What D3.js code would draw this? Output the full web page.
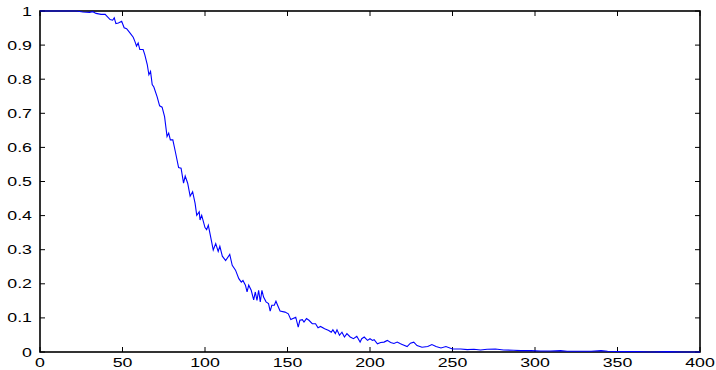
<!DOCTYPE html>
<html>
<head>
<meta charset="utf-8">
<script src="https://cdn.jsdelivr.net/npm/d3@7"></script>
<style>
  body { margin: 0; background: #fff; }
  text { font-family: "Liberation Sans", Arial, sans-serif; font-size: 12.5px; fill: #000; }
</style>
</head>
<body>
<div id="chart"></div>
<script>
// values
const xs = [0, 10, 22, 26, 30, 32, 34, 37, 39.5, 40.5, 42.5, 44, 45, 46, 47.5, 49.5,
  51, 52.5, 54.5, 56.5, 57.5, 58.5, 59.5, 60.5, 62.5, 63.5, 65, 66, 67, 68, 69, 71,
  72.5, 74, 75.5, 77, 78, 79, 80.5, 82, 84, 85.5, 87, 88, 89.5, 91, 92.5, 94, 95,
  96.5, 97, 98, 100, 101, 102, 103, 105, 106.5, 108, 109, 110.5, 112.5, 115, 116.5,
  118.5, 120.5, 122, 123, 124.5, 125.5, 126.5, 128, 129.5, 130.5, 131.5, 132.5,
  133.5, 134.5, 135.5, 137, 138.5, 139.5, 140.5, 142, 143, 144, 145.5, 148.5, 150.5,
  152, 154, 155, 156.5, 157.5, 159, 160, 161.5, 163, 165, 167, 168.5, 170, 172.5,
  175, 176.5, 177.5, 179, 180, 181.5, 183, 184.5, 186, 188, 190, 192, 194, 195,
  196.5, 198.5, 200, 201.5, 202.5, 204.5, 206.5, 208.5, 210.5, 212.5, 214.5, 216.5,
  218.5, 219.5, 222.5, 224.5, 226.5, 228.5, 231.5, 235, 237.5, 240, 243, 246, 250,
  255, 259, 263, 267, 271, 276, 281, 287, 291.5, 297.5, 303.5, 309.5, 315.5, 319.5,
  328, 334, 340, 344, 352, 362, 370, 380, 390, 400];
const ys = [1, 1, 1, 0.997, 0.996, 0.998, 0.993, 0.99, 0.99, 0.985, 0.975, 0.973, 0.98,
  0.963, 0.965, 0.97, 0.951, 0.948, 0.936, 0.923, 0.911, 0.897, 0.906, 0.887, 0.887,
  0.872, 0.843, 0.813, 0.823, 0.784, 0.777, 0.748, 0.722, 0.718, 0.69, 0.632, 0.642,
  0.622, 0.622, 0.588, 0.541, 0.539, 0.495, 0.516, 0.495, 0.457, 0.47, 0.436, 0.401,
  0.411, 0.387, 0.401, 0.365, 0.359, 0.372, 0.348, 0.299, 0.318, 0.295, 0.31, 0.281,
  0.268, 0.286, 0.254, 0.24, 0.215, 0.205, 0.21, 0.196, 0.176, 0.196, 0.181, 0.153,
  0.176, 0.151, 0.181, 0.147, 0.181, 0.161, 0.147, 0.142, 0.12, 0.137, 0.137, 0.149,
  0.137, 0.12, 0.117, 0.112, 0.095, 0.1, 0.102, 0.073, 0.093, 0.095, 0.088, 0.098,
  0.093, 0.083, 0.083, 0.071, 0.075, 0.068, 0.063, 0.058, 0.065, 0.054, 0.065, 0.049,
  0.058, 0.044, 0.054, 0.044, 0.039, 0.046, 0.029, 0.039, 0.044, 0.034, 0.039, 0.034,
  0.036, 0.024, 0.028, 0.029, 0.034, 0.028, 0.025, 0.029, 0.024, 0.022, 0.016, 0.026,
  0.029, 0.019, 0.014, 0.016, 0.022, 0.016, 0.012, 0.016, 0.009, 0.009, 0.007, 0.008,
  0.006, 0.008, 0.009, 0.006, 0.005, 0.004, 0.004, 0.003, 0.003, 0.004, 0.002, 0.002,
  0.002, 0.004, 0.002, 0.001, 0.001, 0, 0.001, 0, 0];
const xTicks = [0, 50, 100, 150, 200, 250, 300, 350, 400];
const yTicks = [0, 0.1, 0.2, 0.3, 0.4, 0.5, 0.6, 0.7, 0.8, 0.9, 1];

const width = 716, height = 370;
const axLeft = 40, axRight = 700, axTop = 11, axBottom = 352;
const tickLen = 5;

const svg = d3.select("#chart").append("svg")
  .attr("width", width)
  .attr("height", height);

const x = d3.scaleLinear().domain([0, 400]).range([axLeft, axRight]);
const y = d3.scaleLinear().domain([0, 1]).range([axBottom, axTop]);

// axes box
svg.append("rect")
  .attr("x", axLeft).attr("y", axTop)
  .attr("width", axRight - axLeft).attr("height", axBottom - axTop)
  .attr("fill", "none").attr("stroke", "#000").attr("stroke-width", 1.6);

// inward ticks on all four sides
const ticks = svg.append("g").attr("stroke", "#000").attr("stroke-width", 1);
xTicks.forEach(function(t) {
  ticks.append("line").attr("x1", x(t)).attr("x2", x(t)).attr("y1", axBottom).attr("y2", axBottom - tickLen);
  ticks.append("line").attr("x1", x(t)).attr("x2", x(t)).attr("y1", axTop).attr("y2", axTop + tickLen);
});
yTicks.forEach(function(t) {
  ticks.append("line").attr("x1", axLeft).attr("x2", axLeft + tickLen).attr("y1", y(t)).attr("y2", y(t));
  ticks.append("line").attr("x1", axRight).attr("x2", axRight - tickLen).attr("y1", y(t)).attr("y2", y(t));
});

// tick labels (the picture is stretched sideways, so are the glyphs)
svg.append("g").selectAll("g")
  .data(xTicks)
  .join("g")
  .attr("transform", d => `translate(${x(d)},367)`)
  .append("text")
  .attr("text-anchor", "middle")
  .attr("transform", "scale(1.42,1)")
  .text(d => d);

svg.append("g").selectAll("g")
  .data(yTicks)
  .join("g")
  .attr("transform", d => `translate(32,${y(d) + 4.5})`)
  .append("text")
  .attr("text-anchor", "end")
  .attr("transform", "scale(1.42,1)")
  .text(d => d);

// the curve, drawn over the box so the tail stays visible
const points = xs.map((d, i) => [d, ys[i]]);
svg.append("path")
  .datum(points)
  .attr("fill", "none")
  .attr("stroke", "#0000ff")
  .attr("stroke-width", 1.1)
  .attr("d", d3.line().x(d => x(d[0])).y(d => y(d[1])));
</script>
</body>
</html>
